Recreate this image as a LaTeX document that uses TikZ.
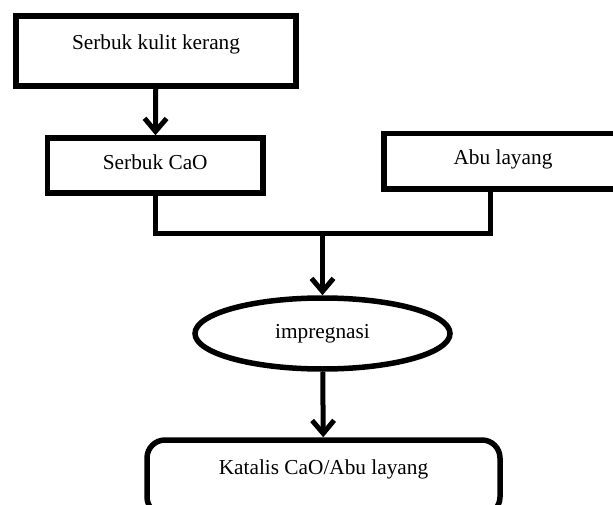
\documentclass[tikz,border=0pt]{standalone}
\usepackage{fontspec}
\setmainfont{Liberation Serif}
\usepackage{tikz}
\usetikzlibrary{positioning, shapes, calc, arrows.meta}

\begin{document}
\begin{tikzpicture}[x=1pt, y=-1pt, every node/.style={font=\fontsize{21.3}{25}\selectfont}]
		\useasboundingbox (0,0) rectangle (613,505);
		\clip (0,0) rectangle (613,505);
		\tikzstyle{stepbox}=[rectangle, draw=black, line width=5.5pt, inner xsep=0pt, inner ysep=0pt, anchor=base]
		\tikzstyle{procbox}=[ellipse, draw=black, line width=5.5pt, minimum width=255pt, minimum height=71pt, inner sep=0pt]
		\tikzstyle{endbox}=[rectangle, rounded corners=18pt, draw=black, line width=5.5pt, inner xsep=0pt, inner ysep=0pt, anchor=base]
		\tikzstyle{arr}=[line width=5pt, -{Straight Barb[length=13pt, width=22pt]}]
		\tikzstyle{line}=[line width=5pt]
		%%
		\node (kulit) at (156,50) [stepbox, minimum width=280pt, text height=34pt, text depth=36pt] {Serbuk kulit kerang};
		\node (cao) at (155.25,170) [stepbox, minimum width=215.5pt, text height=32pt, text depth=23pt] {Serbuk CaO};
		\node (abu) at (503,165) [stepbox, minimum width=238.5pt, text height=31.5pt, text depth=24pt] {Abu layang};
		\node (impreg) at (322.5,333.5) [procbox] {impregnasi};
		\node (katalis) at (323.5,474) [endbox, minimum width=353pt, text height=34pt, text depth=41pt] {Katalis CaO/Abu layang};
		
		\coordinate (jr) at (490,234);
		\coordinate (jm) at (impreg.north |- jr);
		
		\draw [arr] (kulit) -- (cao);
		\draw [line] (cao.south) |- (jr) -- (jr |- abu.south);
		\draw [arr] (jm) -- (impreg);
		\draw [arr] (impreg) -- (katalis);
\end{tikzpicture}
\end{document}
